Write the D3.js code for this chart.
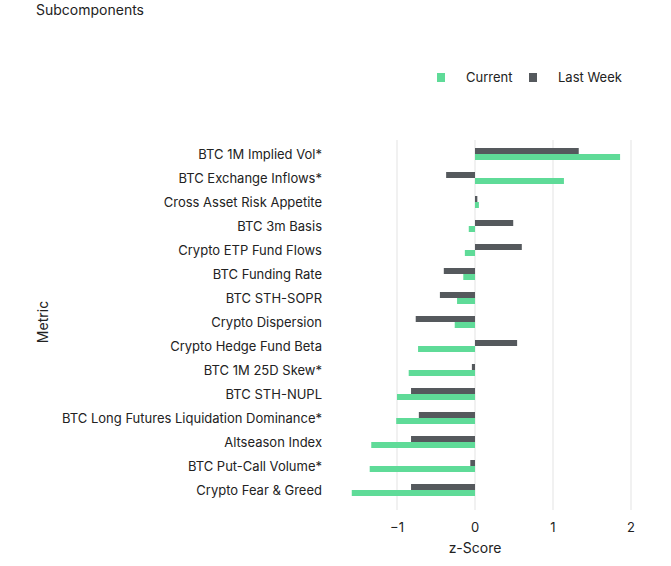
<!DOCTYPE html>
<html><head><meta charset="utf-8">
<script src="https://cdn.jsdelivr.net/npm/d3@7"></script>
<style>body{margin:0;background:#fff}text{font-family:Inter,"Noto Sans",sans-serif;fill:#222}</style>
</head><body><svg id="c" width="671" height="566"></svg>
<script>
const categories=["BTC 1M Implied Vol*","BTC Exchange Inflows*","Cross Asset Risk Appetite","BTC 3m Basis","Crypto ETP Fund Flows","BTC Funding Rate","BTC STH-SOPR","Crypto Dispersion","Crypto Hedge Fund Beta","BTC 1M 25D Skew*","BTC STH-NUPL","BTC Long Futures Liquidation Dominance*","Altseason Index","BTC Put-Call Volume*","Crypto Fear & Greed"];
const current=[1.86,1.14,0.05,-0.08,-0.13,-0.15,-0.23,-0.26,-0.73,-0.85,-1.0,-1.01,-1.33,-1.35,-1.58];
const lastWeek=[1.33,-0.37,0.03,0.49,0.6,-0.4,-0.45,-0.76,0.54,-0.04,-0.82,-0.72,-0.82,-0.06,-0.82];
const ticks=[-1,0,1,2];
const svg=d3.select("#c");
const x=d3.scaleLinear().domain([-1,2]).range([397,631]);
const y=d3.scaleBand().domain(categories).range([142,502]);
const cG="#5fdb98",cL="#55595d";
svg.selectAll(".g").data(ticks).join("line").attr("x1",d=>x(d)).attr("x2",d=>x(d)).attr("y1",140).attr("y2",510).attr("stroke","#e3e3e3");
svg.selectAll(".t").data(ticks).join("text").attr("x",d=>x(d)).attr("y",532).attr("text-anchor","middle").attr("font-size",13).text(d=>d===-1?"−1":d);
const row=svg.selectAll(".r").data(categories).join("g").attr("transform",d=>`translate(0,${y(d)+y.bandwidth()/2})`);
row.append("text").attr("x",322).attr("y",5).attr("text-anchor","end").attr("font-size",13).attr("fill","#333").text(d=>d);
row.append("rect").attr("x",(d,i)=>x(Math.min(0,lastWeek[i]))).attr("width",(d,i)=>Math.abs(x(lastWeek[i])-x(0))).attr("y",-6).attr("height",6).attr("fill",cL);
row.append("rect").attr("x",(d,i)=>x(Math.min(0,current[i]))).attr("width",(d,i)=>Math.abs(x(current[i])-x(0))).attr("y",0).attr("height",6).attr("fill",cG);
svg.append("text").attr("x",475).attr("y",553).attr("text-anchor","middle").attr("font-size",14).text("z-Score");
svg.append("text").attr("transform","translate(48,322) rotate(-90)").attr("text-anchor","middle").attr("font-size",14).text("Metric");
svg.append("text").attr("x",36).attr("y",15).attr("font-size",14).text("Subcomponents");
const leg=[["Current",cG,437],["Last Week",cL,529]];
leg.forEach(([t,c,lx])=>{svg.append("rect").attr("x",lx).attr("y",73).attr("width",8).attr("height",9).attr("fill",c);
svg.append("text").attr("x",lx+29).attr("y",82).attr("font-size",13).text(t);});
</script></body></html>
